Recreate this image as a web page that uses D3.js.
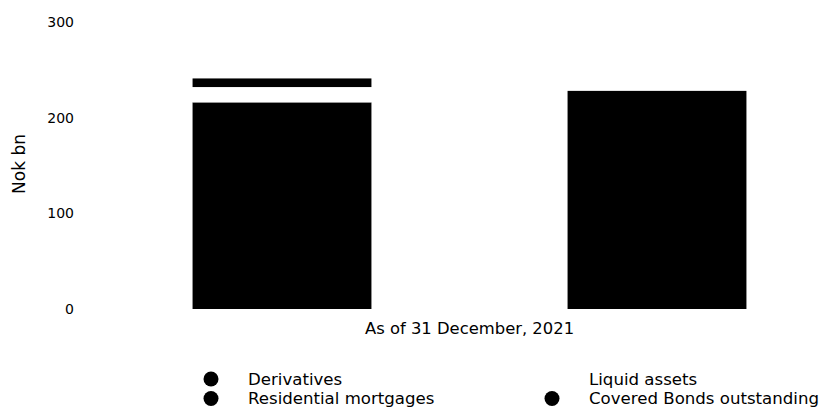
<!DOCTYPE html>
<html>
<head>
<meta charset="utf-8">
<script src="https://cdn.jsdelivr.net/npm/d3@7"></script>
<style>
  body { margin: 0; background: #fff; }
  svg text { font-family: "DejaVu Sans", sans-serif; fill: #000; }
</style>
</head>
<body>
<svg id="chart" width="822" height="409"></svg>
<script>
// values (Nok bn)
const category = ["As of 31 December, 2021"];
const stacks = ["Assets", "Liabilities"];
const seriesNames = ["Residential mortgages", "Liquid assets", "Derivatives", "Covered Bonds outstanding"];
const seriesStack = ["Assets", "Assets", "Assets", "Liabilities"];
const seriesValues = [216, 16, 9, 228];
const seriesColors = ["#000", "#fff", "#000", "#000"];
const legendOrder = ["Derivatives", "Liquid assets", "Residential mortgages", "Covered Bonds outstanding"];
const yTicks = [0, 100, 200, 300];

let margin = {top: 22, right: 0, bottom: 100, left: 94.5};

let svg = d3.select("#chart");

let xScale = d3.scaleBand()
    .domain(category)
    .range([margin.left, margin.left + 750]);

let xInner = d3.scaleBand()
    .domain(stacks)
    .range([0, xScale.bandwidth()])
    .paddingInner(0.523)
    .paddingOuter(0.2615);

let yScale = d3.scaleLinear()
    .domain([0, 300])
    .range([309, margin.top]);

// build stacked segments
let segments = [];
let base = {};
seriesNames.forEach(function (name, i) {
    let s = seriesStack[i];
    let y0 = base[s] || 0;
    segments.push({name: name, stack: s, y0: y0, y1: y0 + seriesValues[i], color: seriesColors[i]});
    base[s] = y0 + seriesValues[i];
});

svg.append("g")
    .selectAll("rect")
    .data(segments)
    .enter().append("rect")
    .attr("x", d => xScale(category[0]) + xInner(d.stack))
    .attr("width", xInner.bandwidth())
    .attr("y", d => yScale(d.y1))
    .attr("height", d => yScale(d.y0) - yScale(d.y1))
    .style("fill", d => d.color);

// y axis: labels only
let yAxis = d3.axisLeft(yScale)
    .tickValues(yTicks)
    .tickSize(0)
    .tickPadding(0);

let yG = svg.append("g")
    .attr("transform", "translate(74,0)")
    .call(yAxis);
yG.select(".domain").remove();
yG.selectAll("text")
    .style("font-size", "14px")
    .style("font-family", "DejaVu Sans, sans-serif");

svg.append("text")
    .attr("transform", "translate(25,164) rotate(-90)")
    .attr("text-anchor", "middle")
    .style("font-size", "17px")
    .text("Nok bn");

// x axis: category label only
let xAxis = d3.axisBottom(xScale).tickSize(0).tickPadding(0);
let xG = svg.append("g")
    .attr("transform", "translate(0,322)")
    .call(xAxis);
xG.select(".domain").remove();
xG.selectAll("text")
    .style("font-size", "16.4px")
    .style("font-family", "DejaVu Sans, sans-serif");

// legend, two columns filled row-wise
let legend = svg.append("g").selectAll("g")
    .data(legendOrder)
    .enter().append("g")
    .attr("transform", function (d, i) {
        let col = i % 2, row = Math.floor(i / 2);
        return "translate(" + (211 + col * 341) + "," + (379 + row * 19.5) + ")";
    });

legend.append("circle")
    .attr("r", 7.5)
    .style("fill", d => seriesColors[seriesNames.indexOf(d)]);

legend.append("text")
    .attr("x", 37)
    .attr("dy", "0.35em")
    .style("font-size", "16.6px")
    .text(d => d);
</script>
</body>
</html>
